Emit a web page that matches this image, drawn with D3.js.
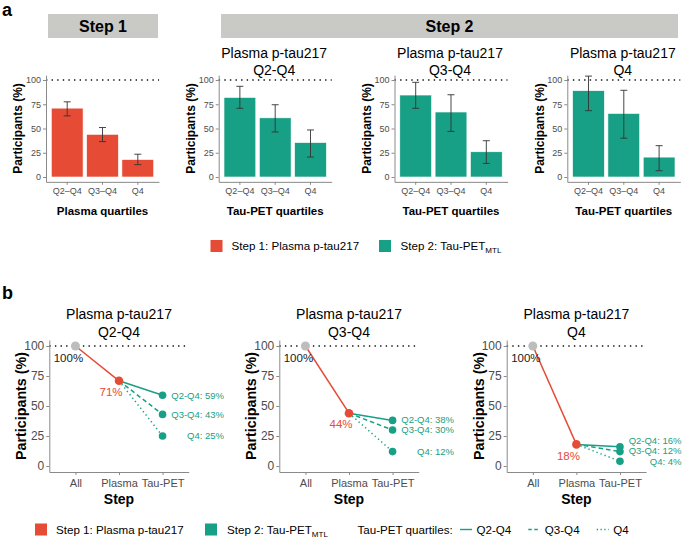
<!DOCTYPE html>
<html><head><meta charset="utf-8">
<script src="https://cdn.jsdelivr.net/npm/d3@7"></script>
<style>body{margin:0;background:#fff}svg{display:block}text{font-family:"Liberation Sans",Arial,Helvetica,sans-serif}</style>
</head><body>
<svg id="c" width="683" height="540"></svg>
<script>
// ---------- data ----------
const quartileTicks = ["Q2–Q4", "Q3–Q4", "Q4"];
const step1Values = [71, 44, 18];
const step1Lower = [63, 36.5, 12.7];
const step1Upper = [77.5, 51, 23.5];
const step2Facets = ["Q2-Q4", "Q3-Q4", "Q4"];
const step2Values = [[82, 61, 35.5], [84.5, 67, 26], [89, 65.5, 20.5]];
const step2Lower = [[70.8, 46.4, 20.6], [70.8, 47, 14], [68.4, 40, 6.5]];
const step2Upper = [[93.5, 74.5, 48.5], [97.6, 84.8, 37.4], [104, 89.4, 32.3]];
const yTicks = [0, 25, 50, 75, 100];
const steps = ["All", "Plasma", "Tau-PET"];
const plasmaFacets = ["Q2-Q4", "Q3-Q4", "Q4"];
const plasmaPct = [71, 44, 18];
const tauQuartiles = ["Q2-Q4", "Q3-Q4", "Q4"];
const tauPct = [[59, 43, 25], [38, 30, 12], [16, 12, 4]];

// ---------- style ----------
const RED = "#E64B35", GREEN = "#17A085", GREY_PT = "#BDBDBD";
const AXIS = "#8a8a8a", TICKTXT = "#4D4D4D";
const svg = d3.select("#c");

function styleAxis(g, fs) {
  g.select(".domain").attr("stroke", AXIS).attr("stroke-width", 1);
  g.selectAll(".tick line").attr("stroke", AXIS).attr("stroke-width", 1);
  g.selectAll(".tick text").attr("fill", TICKTXT).attr("font-size", fs)
    .style("font-family", '"Liberation Sans",Arial,sans-serif');
}

// ---------- panel labels ----------
svg.append("text").attr("x", 2).attr("y", 16).attr("font-size", 18).attr("font-weight", "bold").text("a");
svg.append("text").attr("x", 2).attr("y", 299).attr("font-size", 18).attr("font-weight", "bold").text("b");

// ---------- headers ----------
const HEAD = "#C9C9C5";
svg.append("rect").attr("x", 48).attr("y", 14).attr("width", 110).attr("height", 24).attr("fill", HEAD);
svg.append("text").attr("x", 103).attr("y", 26).attr("dy", "0.36em").attr("text-anchor", "middle")
  .attr("font-size", 16).attr("font-weight", "bold").text("Step 1");
svg.append("rect").attr("x", 221).attr("y", 14).attr("width", 457).attr("height", 24).attr("fill", HEAD);
svg.append("text").attr("x", 449.5).attr("y", 26).attr("dy", "0.36em").attr("text-anchor", "middle")
  .attr("font-size", 16).attr("font-weight", "bold").text("Step 2");

// ---------- part a bar panels ----------
function barPanel(x0, values, lower, upper, color, xTitle, title) {
  const W = 113;
  const g = svg.append("g");
  const x = d3.scaleBand().domain(quartileTicks).range([x0, x0 + W]).paddingInner(0.1).paddingOuter(0.15);
  const y = d3.scaleLinear().domain([0, 100]).range([177, 80]);
  const yA = d3.scaleLinear().domain([-5, 105]).range([y(-5), y(105)]);
  g.append("line").attr("x1", x0).attr("x2", x0 + W).attr("y1", y(100)).attr("y2", y(100))
    .attr("stroke", "#111").attr("stroke-width", 1.4).attr("stroke-dasharray", "1.4 4.2");
  g.selectAll("rect.bar").data(values).join("rect").attr("class", "bar")
    .attr("x", (d, i) => x(quartileTicks[i])).attr("width", x.bandwidth())
    .attr("y", d => y(d)).attr("height", d => y(0) - y(d))
    .attr("fill", color).attr("stroke", "#fff").attr("stroke-width", 0.6);
  const eb = g.selectAll("g.eb").data(values).join("g").attr("class", "eb");
  const cx = i => x(quartileTicks[i]) + x.bandwidth() / 2;
  eb.append("line").attr("x1", (d, i) => cx(i)).attr("x2", (d, i) => cx(i))
    .attr("y1", (d, i) => y(lower[i])).attr("y2", (d, i) => y(upper[i]));
  eb.append("line").attr("x1", (d, i) => cx(i) - 3.5).attr("x2", (d, i) => cx(i) + 3.5)
    .attr("y1", (d, i) => y(lower[i])).attr("y2", (d, i) => y(lower[i]));
  eb.append("line").attr("x1", (d, i) => cx(i) - 3.5).attr("x2", (d, i) => cx(i) + 3.5)
    .attr("y1", (d, i) => y(upper[i])).attr("y2", (d, i) => y(upper[i]));
  eb.selectAll("line").attr("stroke", "#333").attr("stroke-width", 0.9);
  const ga = g.append("g").attr("transform", `translate(${x0},0)`)
    .call(d3.axisLeft(yA).tickValues(yTicks).tickSize(3).tickSizeOuter(0).tickPadding(2));
  styleAxis(ga, 9);
  const gb = g.append("g").attr("transform", `translate(0,${y(-5)})`)
    .call(d3.axisBottom(x).tickSize(3).tickSizeOuter(0).tickPadding(3));
  styleAxis(gb, 9);
  g.append("text").attr("transform", `translate(${x0 - 28},${(y(-5) + y(105)) / 2}) rotate(-90)`)
    .attr("text-anchor", "middle").attr("dy", "0.36em").attr("font-size", 12).attr("font-weight", "bold")
    .text("Participants (%)");
  g.append("text").attr("x", x0 + W / 2).attr("y", 211).attr("dy", "0.36em").attr("text-anchor", "middle")
    .attr("font-size", 11.5).attr("font-weight", "bold").text(xTitle);
  if (title) {
    const tx = x0 + W / 2 - 1;
    g.append("text").attr("x", tx).attr("y", 53).attr("dy", "0.36em").attr("text-anchor", "middle")
      .attr("font-size", 14).text("Plasma p-tau217");
    g.append("text").attr("x", tx).attr("y", 70).attr("dy", "0.36em").attr("text-anchor", "middle")
      .attr("font-size", 14).text(title);
  }
}
barPanel(46, step1Values, step1Lower, step1Upper, RED, "Plasma quartiles", null);
const step2X = [218.7, 394.5, 567.3];
step2Facets.forEach((f, k) => barPanel(step2X[k], step2Values[k], step2Lower[k], step2Upper[k], GREEN, "Tau-PET quartiles", f));

// legend a
function swatch(x, y, color) {
  svg.append("rect").attr("x", x).attr("y", y).attr("width", 12).attr("height", 12).attr("fill", color);
}
swatch(210.5, 240, RED);
svg.append("text").attr("x", 231.5).attr("y", 246).attr("dy", "0.36em").attr("font-size", 11.6).text("Step 1: Plasma p-tau217");
swatch(379, 240, GREEN);
const la = svg.append("text").attr("x", 400.5).attr("y", 246).attr("dy", "0.36em").attr("font-size", 11.6);
la.append("tspan").text("Step 2: Tau-PET");
la.append("tspan").attr("font-size", 8).attr("dy", 3).text("MTL");

// ---------- part b line panels ----------
const dashes = [null, "4.5 3", "1.3 3"];
function linePanel(x0, k) {
  const W = 139.4;
  const g = svg.append("g");
  const x = d3.scalePoint().domain(steps).range([x0, x0 + W]).padding(0.6);
  const y = d3.scaleLinear().domain([0, 100]).range([466, 346]);
  const yA = d3.scaleLinear().domain([-5, 105]).range([y(-5), y(105)]);
  g.append("line").attr("x1", x0).attr("x2", x0 + W).attr("y1", y(100)).attr("y2", y(100))
    .attr("stroke", "#111").attr("stroke-width", 1.4).attr("stroke-dasharray", "1.4 4.2");
  const axL = g.append("g").attr("transform", `translate(${x0},0)`)
    .call(d3.axisLeft(yA).tickValues(yTicks).tickSize(3).tickSizeOuter(0).tickPadding(2));
  styleAxis(axL, 12);
  const axB = g.append("g").attr("transform", `translate(0,${y(-5)})`)
    .call(d3.axisBottom(x).tickSize(3).tickSizeOuter(0).tickPadding(4));
  styleAxis(axB, 11);
  const pv = plasmaPct[k];
  const line = d3.line().x(d => x(d[0])).y(d => y(d[1]));
  g.append("path").attr("d", line([["All", 100], ["Plasma", pv]])).attr("stroke", RED)
    .attr("stroke-width", 1.5).attr("fill", "none");
  tauPct[k].forEach((t, i) => {
    const p = g.append("path").attr("d", line([["Plasma", pv], ["Tau-PET", t]])).attr("stroke", GREEN)
      .attr("stroke-width", 1.5).attr("fill", "none");
    if (dashes[i]) p.attr("stroke-dasharray", dashes[i]);
  });
  g.append("circle").attr("cx", x("All")).attr("cy", y(100)).attr("r", 4.5).attr("fill", GREY_PT);
  g.append("circle").attr("cx", x("Plasma")).attr("cy", y(pv)).attr("r", 4.3).attr("fill", RED);
  tauPct[k].forEach(t => g.append("circle").attr("cx", x("Tau-PET")).attr("cy", y(t)).attr("r", 3.8).attr("fill", GREEN));
  g.append("text").attr("x", x("All") - 7).attr("y", y(100) + 12).attr("dy", "0.36em").attr("text-anchor", "middle")
    .attr("font-size", 11.5).attr("fill", "#1a1a1a").text("100%");
  g.append("text").attr("x", x("Plasma") - 8).attr("y", y(pv) + 11).attr("dy", "0.36em").attr("text-anchor", "middle")
    .attr("font-size", 11.5).attr("fill", RED).text(pv + "%");
  const ly = tauPct[k].map(t => y(t));
  for (let i = ly.length - 2; i >= 0; i--) ly[i] = Math.min(ly[i], ly[i + 1] - 10.5);
  tauPct[k].forEach((t, i) => {
    g.append("text").attr("x", x("Tau-PET") + 61.5).attr("y", ly[i]).attr("dy", "0.36em").attr("text-anchor", "end")
      .attr("font-size", 9.5).attr("fill", GREEN).text(`${tauQuartiles[i]}: ${t}%`);
  });
  const cx = x0 + W / 2;
  g.append("text").attr("x", cx).attr("y", 314).attr("dy", "0.36em").attr("text-anchor", "middle").attr("font-size", 14).text("Plasma p-tau217");
  g.append("text").attr("x", cx).attr("y", 331.5).attr("dy", "0.36em").attr("text-anchor", "middle").attr("font-size", 14).text(plasmaFacets[k]);
  g.append("text").attr("transform", `translate(${x0 - 28},${(y(-5) + y(105)) / 2}) rotate(-90)`)
    .attr("text-anchor", "middle").attr("dy", "0.36em").attr("font-size", 14.3).attr("font-weight", "bold")
    .text("Participants (%)");
  g.append("text").attr("x", cx).attr("y", 499).attr("dy", "0.36em").attr("text-anchor", "middle")
    .attr("font-size", 14).attr("font-weight", "bold").text("Step");
}
const lineX = [49.3, 279.3, 506.7];
plasmaFacets.forEach((f, k) => linePanel(lineX[k], k));

// legend b
swatch(35, 523.5, RED);
svg.append("text").attr("x", 56).attr("y", 529.5).attr("dy", "0.36em").attr("font-size", 11.6).text("Step 1: Plasma p-tau217");
swatch(205, 523.5, GREEN);
const lb = svg.append("text").attr("x", 227).attr("y", 529.5).attr("dy", "0.36em").attr("font-size", 11.6);
lb.append("tspan").text("Step 2: Tau-PET");
lb.append("tspan").attr("font-size", 8).attr("dy", 3).text("MTL");
svg.append("text").attr("x", 357.5).attr("y", 529.5).attr("dy", "0.36em").attr("font-size", 11.6).text("Tau-PET quartiles:");
const keyX = [460, 528.3, 596.7];
tauQuartiles.forEach((q, i) => {
  const l = svg.append("line").attr("x1", keyX[i]).attr("x2", keyX[i] + 12).attr("y1", 529.5).attr("y2", 529.5)
    .attr("stroke", GREEN).attr("stroke-width", 1.4);
  if (dashes[i]) l.attr("stroke-dasharray", i === 1 ? "3.5 2.5" : "1.3 2.5");
  svg.append("text").attr("x", keyX[i] + 16.5).attr("y", 529.5).attr("dy", "0.36em").attr("font-size", 11.6).text(q);
});
</script>
</body></html>
